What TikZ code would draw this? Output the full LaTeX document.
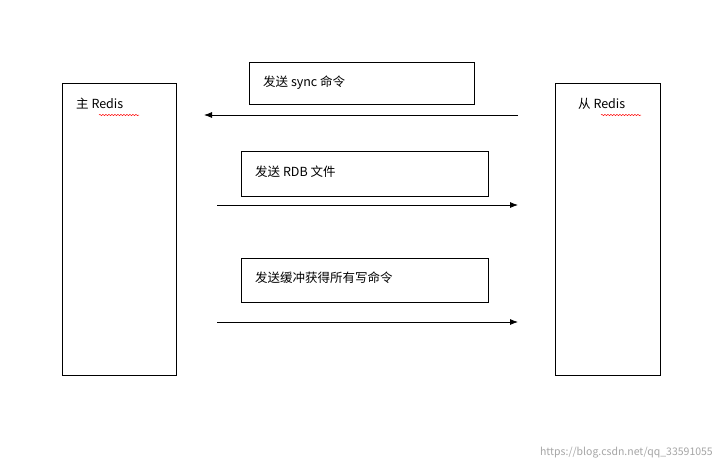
\documentclass[tikz,border=0pt]{standalone}
\usepackage{fontspec}
\setmainfont{Noto Sans CJK SC}
\usetikzlibrary{decorations.pathmorphing,arrows.meta}
\begin{document}
\begin{tikzpicture}[x=1pt,y=-1pt,
  box/.style={draw=black,line width=0.7pt,fill=white},
  lbl/.style={anchor=west,font=\fontsize{12.5}{14}\selectfont,inner sep=0pt},
  arr/.style={-{Latex[length=8pt,width=6pt]},line width=0.8pt},
  squig/.style={red,line width=0.5pt,decorate,decoration={snake,amplitude=0.6pt,segment length=3pt}}]
\useasboundingbox (0,0) rectangle (722,472);
\fill[white] (0,0) rectangle (722,472);
\draw[box] (62,83) rectangle (176,375);
\draw[box] (555,83) rectangle (660,375);
\draw[box] (249,62) rectangle (474,104);
\draw[box] (241,151) rectangle (488,196);
\draw[box] (241,258) rectangle (488,302);
\node[lbl] (m) at (76,104) {主 Redis};
\node[lbl] (s) at (578,104) {从 Redis};
\draw[squig] (99,115) -- (139,115);
\draw[squig] (601,115) -- (641,115);
\node[lbl] (t1) at (263,83) {发送 sync 命令};
\node[lbl] (t2) at (255,172) {发送 RDB 文件};
\node[lbl] (t3) at (255,278) {发送缓冲获得所有写命令};
\coordinate (a1s) at (518,115); \coordinate (a1e) at (204,115);
\coordinate (a2s) at (217,205); \coordinate (a2e) at (518,205);
\coordinate (a3s) at (217,322); \coordinate (a3e) at (518,322);
\draw[arr] (a1s) -- (a1e);
\draw[arr] (a2s) -- (a2e);
\draw[arr] (a3s) -- (a3e);
\node[anchor=east,text=gray!70,font=\fontsize{10.5}{12}\selectfont,inner sep=0pt] (w) at (713,453) {https://blog.csdn.net/qq\_33591055};
\end{tikzpicture}
\end{document}
